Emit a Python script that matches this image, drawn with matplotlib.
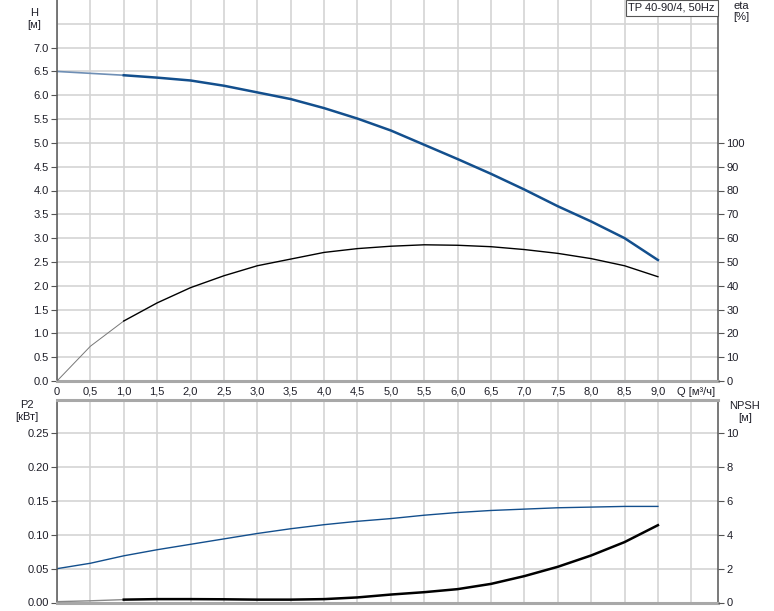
import numpy as np
import matplotlib
matplotlib.use("Agg")
import matplotlib.pyplot as plt

plt.rcParams['font.family'] = ['Liberation Sans', 'DejaVu Sans']

# Flow rate Q [m3/h]
q = [0.0, 0.5, 1.0, 1.5, 2.0, 2.5, 3.0, 3.5, 4.0, 4.5,
     5.0, 5.5, 6.0, 6.5, 7.0, 7.5, 8.0, 8.5, 9.0]
# Head H [m]
head = [6.50, 6.46, 6.42, 6.37, 6.31, 6.20, 6.06, 5.92, 5.73, 5.51,
        5.26, 4.96, 4.66, 4.35, 4.02, 3.67, 3.35, 3.00, 2.54]
# Efficiency eta [%]
eta = [0.0, 14.6, 25.2, 32.8, 39.2, 44.2, 48.4, 51.2, 54.0, 55.6,
       56.6, 57.2, 57.0, 56.4, 55.2, 53.6, 51.4, 48.4, 43.8]
# Power P2 [kW]
p2 = [0.050, 0.058, 0.069, 0.078, 0.086, 0.094, 0.102, 0.109, 0.115, 0.120,
      0.124, 0.129, 0.133, 0.136, 0.138, 0.140, 0.141, 0.142, 0.142]
# NPSH [m]
npsh = [0.05, 0.10, 0.17, 0.20, 0.20, 0.19, 0.17, 0.17, 0.20, 0.30,
        0.47, 0.61, 0.79, 1.10, 1.56, 2.11, 2.78, 3.57, 4.57]

x_ticks = np.arange(0, 9.01, 0.5)
x_labels = ['0'] + [f'{v:.1f}'.replace('.', ',') for v in x_ticks[1:]]
h_ticks = np.arange(0, 7.01, 0.5)
eta_ticks = np.arange(0, 101, 10)
p2_ticks = np.arange(0, 0.251, 0.05)
npsh_ticks = np.arange(0, 10.1, 2)

blue = '#134f8d'
grid_c = '#d4d4d4'
txt_c = '#1e1e28'
W, H = 774, 611

fig = plt.figure(figsize=(W / 100, H / 100), dpi=100)
ax1 = fig.add_axes([57 / W, 230 / H, 661 / W, 381 / H])
ax2 = fig.add_axes([57 / W, 8.5 / H, 661 / W, 203 / H])


def style(ax):
    ax.set_xlim(0, 9.9)
    ax.set_xticks(x_ticks)
    ax.set_xticks([9.5], minor=True)
    ax.grid(True, which='both', color=grid_c, lw=1.2)
    ax.set_axisbelow(True)
    for s in ('left', 'right'):
        ax.spines[s].set_color('#555555')
        ax.spines[s].set_linewidth(1.1)
    ax.spines['bottom'].set_color('#a8a8a8')
    ax.spines['bottom'].set_linewidth(2.2)
    ax.spines['top'].set_visible(False)
    ax.tick_params(axis='y', length=4, width=0.8, color='#555555',
                   labelsize=8, labelcolor=txt_c, pad=2)
    ax.tick_params(axis='x', length=0, labelsize=8, labelcolor=txt_c, pad=4)
    ax.tick_params(which='minor', length=0)


# Top panel: H and eta
style(ax1)
ax1.set_ylim(0, 8)
ax1.set_yticks(h_ticks)
ax1.set_yticklabels([f'{v:.1f}' for v in h_ticks])
ax1.set_yticks([7.5], minor=True)
ax1.set_xticklabels(x_labels)
ax1.plot(q[:3], head[:3], color='#6f8fb5', lw=1.2)
ax1.plot(q[2:], head[2:], color=blue, lw=1.8)

ax1r = ax1.twinx()
ax1r.set_ylim(0, 160)
ax1r.set_yticks(eta_ticks)
ax1r.tick_params(axis='y', length=4, width=0.8, color='#555555',
                 labelsize=8, labelcolor=txt_c, pad=2)
for s in ax1r.spines.values():
    s.set_visible(False)
ax1r.plot(q[:3], eta[:3], color='#777777', lw=0.7)
ax1r.plot(q[2:], eta[2:], color='black', lw=1.0)

# Bottom panel: P2 and NPSH
style(ax2)
ax2.spines['top'].set_visible(True)
ax2.spines['top'].set_color('#a8a8a8')
ax2.spines['top'].set_linewidth(2.2)
ax2.set_ylim(0, 0.30)
ax2.set_yticks(p2_ticks)
ax2.set_yticklabels([f'{v:.2f}' for v in p2_ticks])
ax2.set_xticklabels([])
ax2.plot(q, p2, color=blue, lw=1.0)

ax2r = ax2.twinx()
ax2r.set_ylim(0, 12)
ax2r.set_yticks(npsh_ticks)
ax2r.tick_params(axis='y', length=4, width=0.8, color='#555555',
                 labelsize=8, labelcolor=txt_c, pad=2)
for s in ax2r.spines.values():
    s.set_visible(False)
ax2r.plot(q[:3], npsh[:3], color='#888888', lw=1.0)
ax2r.plot(q[2:], npsh[2:], color='black', lw=1.8)

# Axis captions
def ftxt(x, y, s, **kw):
    fig.text(x / W, 1 - y / H, s, fontsize=8, color=txt_c,
             va='center', **kw)

ftxt(34, 13, 'H', ha='center')
ftxt(34, 25, '[м]', ha='center')
ftxt(741, 6, 'eta', ha='center')
ftxt(741, 17, '[%]', ha='center')
ftxt(27, 405, 'P2', ha='center')
ftxt(27, 417, '[кВт]', ha='center')
ftxt(745, 406, 'NPSH', ha='center')
ftxt(745, 418, '[м]', ha='center')
ftxt(677, 392, 'Q [м³/ч]', ha='left')

fig.text(715 / W, 1 - 8 / H, 'TP 40-90/4, 50Hz', fontsize=8, color=txt_c,
         ha='right', va='center',
         bbox=dict(boxstyle='square,pad=0.25', fc='white', ec='#555555', lw=0.8))

fig.savefig('out.png', dpi=100)
